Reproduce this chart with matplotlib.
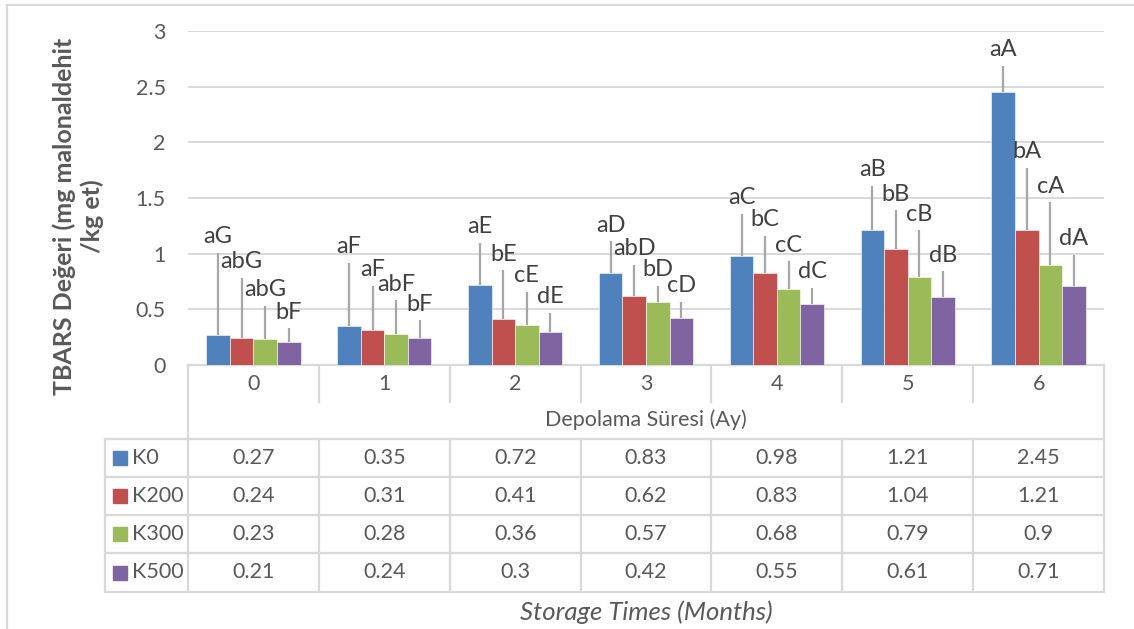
import numpy as np
import matplotlib.pyplot as plt
import matplotlib.transforms as mtransforms
from matplotlib.patches import Rectangle

plt.rcParams['font.family'] = ['Lato', 'DejaVu Sans']

months = ['0', '1', '2', '3', '4', '5', '6']
series = ['K0', 'K200', 'K300', 'K500']
colors = ['#4F81BD', '#C0504D', '#9BBB59', '#8064A2']

k0 = [0.27, 0.35, 0.72, 0.83, 0.98, 1.21, 2.45]
k200 = [0.24, 0.31, 0.41, 0.62, 0.83, 1.04, 1.21]
k300 = [0.23, 0.28, 0.36, 0.57, 0.68, 0.79, 0.9]
k500 = [0.21, 0.24, 0.3, 0.42, 0.55, 0.61, 0.71]

# upper error bars (sd)
err_k0 = [0.74, 0.57, 0.38, 0.28, 0.38, 0.40, 0.24]
err_k200 = [0.54, 0.40, 0.44, 0.28, 0.33, 0.35, 0.56]
err_k300 = [0.30, 0.30, 0.30, 0.14, 0.25, 0.42, 0.56]
err_k500 = [0.12, 0.16, 0.17, 0.15, 0.14, 0.23, 0.28]

# significance letters
let_k0 = ['aG', 'aF', 'aE', 'aD', 'aC', 'aB', 'aA']
let_k200 = ['abG', 'aF', 'bE', 'abD', 'bC', 'bB', 'bA']
let_k300 = ['abG', 'abF', 'cE', 'bD', 'cC', 'cB', 'cA']
let_k500 = ['bF', 'bF', 'dE', 'cD', 'dC', 'dB', 'dA']

values = [k0, k200, k300, k500]
errors = [err_k0, err_k200, err_k300, err_k500]
letters = [let_k0, let_k200, let_k300, let_k500]

W, H = 1134, 629
fig = plt.figure(figsize=(W / 100, H / 100), dpi=100)

# overlay in pixel units for table, frame and titles
over = fig.add_axes([0, 0, 1, 1])
over.set_xlim(0, W)
over.set_ylim(H, 0)
over.axis('off')

px_left, px_right, px_top, px_bottom = 188, 1104, 31, 365
ax = fig.add_axes([px_left / W, 1 - px_bottom / H,
                   (px_right - px_left) / W, (px_bottom - px_top) / H])
ax.patch.set_alpha(0)

x = np.arange(len(months))
bw = 0.18
grid_c = '#D9D9D9'
for i, (vals, errs, labs) in enumerate(zip(values, errors, letters)):
    pos = x + (i - 1.5) * bw
    ax.bar(pos, vals, bw, color=colors[i], edgecolor='white', linewidth=0.4,
           zorder=3)
    ax.errorbar(pos, vals, yerr=[np.zeros(len(vals)), errs], fmt='none',
                ecolor='#A6A6A6', elinewidth=1.6, capsize=0, zorder=4)
    for p, v, e, t in zip(pos, vals, errs, labs):
        ax.annotate(t, (p, v + e), xytext=(0, 7), textcoords='offset points',
                    ha='center', va='baseline', fontsize=17, color='#404040',
                    zorder=5)

ax.set_xlim(-0.5, len(months) - 0.5)
ax.set_ylim(0, 3)
ax.set_yticks(np.arange(0, 3.01, 0.5))
ax.set_yticklabels(['0', '0.5', '1', '1.5', '2', '2.5', '3'])
ax.tick_params(axis='y', length=0, pad=16, labelsize=15.5, labelcolor='#595959')
ax.set_xticks([])
ax.grid(axis='y', color=grid_c, linewidth=1.4, zorder=0)
for s in ax.spines.values():
    s.set_visible(False)

# data table under the plot
bt = mtransforms.blended_transform_factory(ax.transData, over.transData)
lc = dict(color=grid_c, linewidth=1.6, zorder=1)
leg_left = 105
row_lines = [439, 477, 515, 553, 592]
edges = np.arange(len(months) + 1) - 0.5

over.plot([px_left, px_right], [px_bottom, px_bottom], **lc)
for yy in row_lines:
    over.plot([leg_left, px_right], [yy, yy], **lc)
over.plot([leg_left, leg_left], [row_lines[0], row_lines[-1]], **lc)
over.plot([px_left, px_left], [px_bottom, row_lines[-1]], **lc)
over.plot([px_right, px_right], [px_bottom, row_lines[-1]], **lc)
for e in edges[1:-1]:
    over.plot([e, e], [px_bottom, 402], transform=bt, **lc)
    over.plot([e, e], [row_lines[0], row_lines[-1]], transform=bt, **lc)

txt = dict(fontsize=15.5, color='#595959', ha='center', va='center')
for xi, m in zip(x, months):
    over.text(xi, 384, m, transform=bt, **txt)
over.text((px_left + px_right) / 2, 420, 'Depolama Süresi (Ay)', **txt)

for r, (name, vals) in enumerate(zip(series, values)):
    yc = (row_lines[r] + row_lines[r + 1]) / 2
    over.add_patch(Rectangle((113, yc - 7), 14, 14, color=colors[r], zorder=2))
    over.text(132, yc, name, fontsize=15.5, color='#595959', ha='left',
              va='center')
    for xi, v in zip(x, vals):
        over.text(xi, yc, f'{v:g}', transform=bt, **txt)

over.text((px_left + px_right) / 2, 612, 'Storage Times (Months)', fontsize=18.5,
          style='italic', color='#595959', ha='center', va='center')

over.text(78, 216, 'TBARS Değeri (mg malonaldehit\n/kg et)', rotation=90,
          fontsize=18, fontweight='bold', color='#595959', ha='center',
          va='center', linespacing=1.2)

# chart frame
over.plot([7, 7], [5, H], color=grid_c, linewidth=1.6)
over.plot([7, W], [5, 5], color=grid_c, linewidth=1.6)

fig.savefig('out.png', dpi=100)
